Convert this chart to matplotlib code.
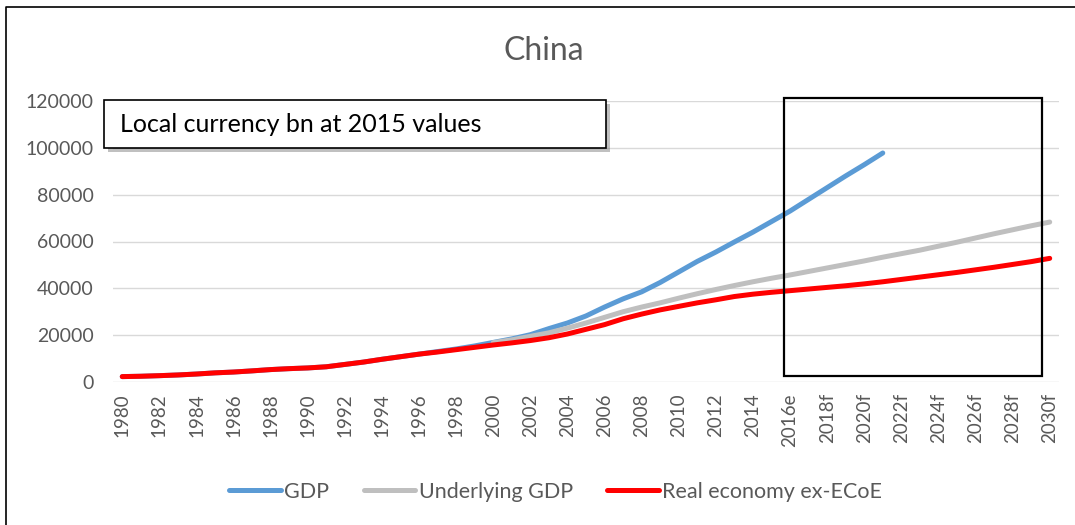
import numpy as np
from matplotlib import pyplot as plt
from matplotlib.patches import Rectangle
from matplotlib.lines import Line2D
from matplotlib import patheffects as pe

plt.rcParams['font.family'] = ['Lato', 'DejaVu Sans']

years = list(range(1980, 2031))
year_labels = [str(y) if y < 2016 else (str(y) + ("e" if y == 2016 else "f")) for y in years]

# local currency bn at 2015 values
gdp = [2300, 2450, 2700, 3000, 3400, 3900, 4250, 4750, 5300, 5700,
       6000, 6500, 7500, 8500, 9700, 10800, 11900, 13000, 14100, 15400,
       16900, 18400, 20200, 22800, 25200, 28200, 32000, 35500, 38500, 42500,
       47000, 51500, 55500, 59800, 64000, 68500, 73000, 78000, 83000, 88000,
       92800, 97800] + [np.nan] * 9
underlying = [np.nan] * 20 + [
       16800, 18000, 19500, 21000, 23000, 25200, 27600, 30000, 32000, 33800,
       35800, 37700, 39500, 41200, 42800, 44300, 45700, 47200, 48700, 50200,
       51700, 53300, 54800, 56300, 58000, 59700, 61500, 63300, 65000, 66700,
       68300]
real_ex_ecoe = [2300, 2450, 2700, 3000, 3400, 3900, 4250, 4750, 5300, 5700,
       6000, 6500, 7500, 8500, 9700, 10800, 11900, 12800, 13800, 14800,
       15800, 16700, 17700, 18900, 20500, 22500, 24500, 27000, 29000, 30800,
       32300, 33800, 35100, 36500, 37500, 38300, 39000, 39700, 40400, 41100,
       41900, 42800, 43800, 44800, 45800, 46800, 47900, 49000, 50200, 51400,
       52800]

grey = "#595959"
fig = plt.figure(figsize=(10.75, 5.25), dpi=100)
ax = fig.add_axes([0.1051, 0.2724, 0.88, 0.5352])

x = np.arange(len(years))
ax.plot(x, gdp, color="#5B9BD5", lw=3.6, solid_capstyle="round", label="GDP")
ax.plot(x, underlying, color="#BFBFBF", lw=3.6, solid_capstyle="round", label="Underlying GDP")
ax.plot(x, real_ex_ecoe, color="#FF0000", lw=3.6, solid_capstyle="round", label="Real economy ex-ECoE")

ax.set_xlim(-0.5, len(years) - 0.5)
ax.set_ylim(0, 120000)
ax.set_yticks(range(0, 120001, 20000))
ax.set_xticks(x[::2])
ax.set_xticklabels(year_labels[::2], rotation=90)
ax.tick_params(axis="both", length=0, colors=grey, labelsize=14)
ax.tick_params(axis="x", labelsize=13.5, pad=8)
ax.tick_params(axis="y", pad=14)
ax.grid(axis="y", color="#D9D9D9", lw=1)
ax.set_axisbelow(True)
for s in ax.spines.values():
    s.set_visible(False)

fig.text(0.506, 0.903, "China", ha="center", va="center", fontsize=23, color=grey)

# note box with shadow
box = Rectangle((0.0967, 0.7181), 0.467, 0.0914, transform=fig.transFigure,
                facecolor="white", edgecolor="black", lw=1.2, zorder=5)
box.set_path_effects([pe.SimplePatchShadow(offset=(3, -3), alpha=0.35), pe.Normal()])
fig.add_artist(box)
fig.text(0.1116, 0.7638, "Local currency bn at 2015 values", ha="left", va="center",
         fontsize=18, color="black", zorder=6)

# forecast frame
fig.add_artist(Rectangle((0.7293, 0.2838), 0.24, 0.5295, transform=fig.transFigure,
                         fill=False, edgecolor="black", lw=1.6))

# outer border (left and top)
fig.add_artist(Line2D([0.0056, 0.0056, 1.0], [0.0, 0.9867, 0.9867], color="black", lw=1.2))

fig.legend(loc="center", bbox_to_anchor=(0.517, 0.063), ncol=3, frameon=False,
           fontsize=15.5, labelcolor=grey, handlelength=2.4, handletextpad=0.15,
           columnspacing=1.6)

fig.savefig("out.png", dpi=100)
